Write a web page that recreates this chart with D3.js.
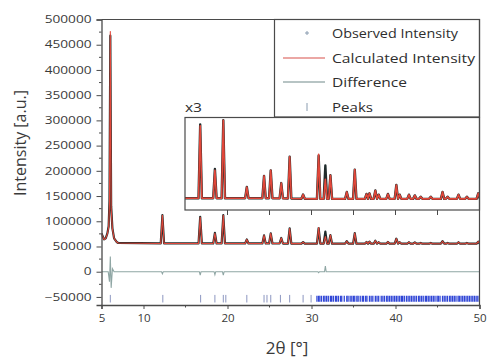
<!DOCTYPE html>
<html>
<head>
<meta charset="utf-8">
<script src="https://cdn.jsdelivr.net/npm/d3@7"></script>
<style>
  html, body { margin: 0; padding: 0; background: #fff; }
  svg { display: block; font-family: "Open Sans", "DejaVu Sans", sans-serif; }
</style>
</head>
<body>
<svg id="chart" width="490" height="358"></svg>
<script>
// ---------------- DATA ----------------
const xDomain = [5, 50];
const yTickValues = [-50000, 0, 50000, 100000, 150000, 200000, 250000, 300000, 350000, 400000, 450000, 500000];
const xTickLabels = [5, 10, 20, 30, 40, 50];
const xMinorTicks = [15, 25, 35, 45];
const insetTicks = [20, 25, 30, 35, 40, 45];

// background anchors
const bgX = [7, 8, 10, 15, 20, 25, 30, 35, 40, 45, 50];
const bgY = [57000, 56500, 56000, 56000, 56000, 56000, 55500, 55500, 55500, 55500, 55500];

// low-angle region, explicit profile
const lowX    = [5.0, 5.15, 5.3, 5.5, 5.7, 5.85, 5.95, 6.05, 6.15, 6.3, 6.5, 6.8, 7.0];
const lowObs  = [76000, 70000, 64000, 66000, 76000, 90000, 140000, 468000, 130000, 86000, 66000, 59000, 57000];
const lowCalc = [76000, 70000, 64000, 66000, 75000, 88000, 135000, 476000, 125000, 85000, 66000, 59000, 57000];

// reflections: position, calculated net height, observed net height
const peakPos  = [12.25, 16.75, 18.5, 19.5, 22.3, 24.35, 25.15, 26.4, 27.4, 29.0, 30.85, 31.65, 32.25, 34.2, 35.15, 36.55, 36.9, 37.6, 38.0, 39.1, 40.1, 40.5, 41.6, 42.3, 43.0, 44.2, 45.6, 46.2, 47.5, 48.5, 49.85];
const peakCalc = [56000, 52000, 20000, 56000, 8000, 16000, 20000, 11000, 30000, 3000, 32000, 14000, 17000, 5000, 21000, 3500, 4000, 6000, 3000, 3500, 10000, 3000, 3000, 2500, 1500, 1500, 5000, 1500, 3000, 1500, 4000];
const peakObs  = [56000, 53000, 21000, 56000, 8000, 16000, 20000, 11000, 30000, 3000, 31000, 24000, 17000, 5000, 21000, 3500, 4000, 6000, 3000, 3500, 10000, 3000, 3000, 2500, 1500, 1500, 5000, 1500, 3000, 1500, 4000];

// difference curve (explicit)
const diffX = [5, 5.8, 5.95, 6.05, 6.15, 6.3, 6.5, 12.15, 12.25, 12.35, 16.65, 16.75, 16.85, 18.4, 18.5, 18.6, 19.4, 19.5, 19.6, 30.75, 30.85, 30.95, 31.55, 31.65, 31.75, 50];
const diffY = [0, 0, -20000, 30000, -32000, 6000, 0, 0, -4000, 0, 0, -7000, 0, 0, -6000, 0, 0, -7000, 0, 0, -2000, 0, 0, 11000, 0, 0];

// reflection tick marks
const reflSparse = [6.05, 12.3, 16.8, 18.5, 19.5, 19.8, 22.3, 24.35, 24.7, 25.15, 26.3, 27.4, 29.0, 29.95];
const reflDense = [30.65, 30.85, 31.0, 31.2, 31.45, 31.6, 31.8, 32.0, 32.25, 32.4, 32.6, 32.85, 33.0, 33.2, 33.45, 33.6, 33.9, 34.2, 34.35, 34.6, 34.8, 35.0, 35.15, 35.4, 35.55, 35.8, 36.05, 36.2, 36.45, 36.6, 36.9, 37.1, 37.3, 37.6, 37.8, 38.0, 38.3, 38.5, 38.7, 38.95, 39.1, 39.3, 39.5, 39.7, 39.9, 40.1, 40.3, 40.5, 40.7, 40.85, 41.05, 41.3, 41.5, 41.7, 41.9, 42.1, 42.3, 42.5, 42.75, 42.9, 43.1, 43.3, 43.55, 43.7, 43.9, 44.1, 44.3, 44.5, 44.7, 44.95, 45.1, 45.3, 45.6, 45.8, 46.0, 46.2, 46.45, 46.6, 46.8, 47.0, 47.2, 47.45, 47.6, 47.8, 48.0, 48.2, 48.4, 48.6, 48.8, 49.0, 49.2, 49.4, 49.6, 49.8, 50.0];

const legendLabels = ["Observed Intensity", "Calculated Intensity", "Difference", "Peaks"];

// ---------------- LAYOUT ----------------
const svg = d3.select("#chart");
const L = 101.5, R = 479.5, T = 19.5, B = 305;
const x = d3.scaleLinear().domain(xDomain).range([L, R]);
const y = d3.scaleLinear().domain([-66000, 500000]).range([B, T]);
const bg = d3.scaleLinear().domain(bgX).range(bgY);

const frameColor = "#4a4a4a";
const textColor = "#3a3a3a";

// build profiles from the data
function profile(lowY, net) {
  const pts = lowX.map((v, i) => [v, lowY[i]]);
  const hw = 0.2;
  peakPos.forEach((p, i) => {
    pts.push([p - hw, bg(p - hw)]);
    pts.push([p, bg(p) + net[i]]);
    pts.push([p + hw, bg(p + hw)]);
  });
  pts.push([50, bg(50)]);
  return pts;
}
const obsPts = profile(lowObs, peakObs);
const calcPts = profile(lowCalc, peakCalc);
const diffPts = diffX.map((v, i) => [v, diffY[i]]);

const defs = svg.append("defs");
defs.append("clipPath").attr("id", "clipMain")
  .append("rect").attr("x", L).attr("y", T).attr("width", R - L).attr("height", B - T);
defs.append("clipPath").attr("id", "clipInset")
  .append("rect").attr("x", 185).attr("y", 117.5).attr("width", R - 185).attr("height", 92.5);

const lineMain = d3.line().x(d => x(d[0])).y(d => y(d[1]));

const gMain = svg.append("g").attr("clip-path", "url(#clipMain)");
gMain.append("path").datum(diffPts).attr("d", lineMain)
  .attr("fill", "none").attr("stroke", "#8fa6a4").attr("stroke-width", 1.1);
gMain.append("path").datum(obsPts).attr("d", lineMain)
  .attr("fill", "none").attr("stroke", "#1f2b2b").attr("stroke-width", 2.2).attr("stroke-linejoin", "round");
gMain.append("path").datum(calcPts).attr("d", lineMain)
  .attr("fill", "none").attr("stroke", "#e2473a").attr("stroke-width", 1.1).attr("stroke-linejoin", "round");

// reflection ticks
gMain.selectAll("line.rs").data(reflSparse).enter().append("line")
  .attr("x1", d => x(d)).attr("x2", d => x(d)).attr("y1", y(-46000)).attr("y2", y(-61000))
  .attr("stroke", "#8c96c0").attr("stroke-width", 1);
gMain.selectAll("line.rd").data(reflDense).enter().append("line")
  .attr("x1", d => x(d)).attr("x2", d => x(d)).attr("y1", y(-47500)).attr("y2", y(-59500))
  .attr("stroke", "#2f45d6").attr("stroke-width", 1.3);

// ---------------- LEGEND ----------------
const lg = svg.append("g");
lg.append("rect").attr("x", 274.5).attr("y", T).attr("width", R - 274.5).attr("height", 117 - T)
  .attr("fill", "#fff").attr("stroke", frameColor).attr("stroke-width", 1.2);
const legY = [33, 58, 82, 107];
const legW = [126, 143, 75, 41];
lg.selectAll("text").data(legendLabels).enter().append("text")
  .attr("x", 332).attr("y", (d, i) => legY[i] + 4.5)
  .attr("font-size", 12).attr("fill", "#2e2e2e")
  .attr("textLength", (d, i) => legW[i]).attr("lengthAdjust", "spacingAndGlyphs")
  .text(d => d);
lg.append("path").attr("d", `M${307 - 2},${legY[0]}h4M307,${legY[0] - 2}v4`)
  .attr("stroke", "#8a9cb0").attr("stroke-width", 1);
lg.append("line").attr("x1", 283).attr("x2", 325).attr("y1", legY[1]).attr("y2", legY[1])
  .attr("stroke", "#e48a86").attr("stroke-width", 1.3);
lg.append("line").attr("x1", 283).attr("x2", 325).attr("y1", legY[2]).attr("y2", legY[2])
  .attr("stroke", "#9fb0b0").attr("stroke-width", 1.3);
lg.append("line").attr("x1", 307).attr("x2", 307).attr("y1", legY[3] - 4).attr("y2", legY[3] + 4)
  .attr("stroke", "#8a9cb0").attr("stroke-width", 1);

// ---------------- INSET ----------------
const yIn = d3.scaleLinear().domain([47500, 114000]).range([210, 117.5]);
const lineIn = d3.line().x(d => x(d[0])).y(d => yIn(d[1]));
const gi = svg.append("g");
gi.append("rect").attr("x", 185).attr("y", 117.5).attr("width", R - 185).attr("height", 92.5)
  .attr("fill", "#fff");
const gic = gi.append("g").attr("clip-path", "url(#clipInset)");
gic.append("path").datum(obsPts).attr("d", lineIn)
  .attr("fill", "none").attr("stroke", "#1f2b2b").attr("stroke-width", 2.4).attr("stroke-linejoin", "round");
gic.append("path").datum(calcPts).attr("d", lineIn)
  .attr("fill", "none").attr("stroke", "#e2473a").attr("stroke-width", 1.6).attr("stroke-linejoin", "round");
gi.append("rect").attr("x", 185).attr("y", 117.5).attr("width", R - 185).attr("height", 92.5)
  .attr("fill", "none").attr("stroke", frameColor).attr("stroke-width", 1.2);
gi.selectAll("line.it").data(insetTicks).enter().append("line")
  .attr("x1", d => x(d)).attr("x2", d => x(d)).attr("y1", 210).attr("y2", 215)
  .attr("stroke", frameColor).attr("stroke-width", 1);
gi.append("text").attr("x", 185).attr("y", 112).attr("font-size", 12).attr("fill", "#2e2e2e")
  .attr("textLength", 17).attr("lengthAdjust", "spacingAndGlyphs").text("x3");

// ---------------- AXES / FRAME ----------------
svg.append("path").attr("d", `M${L},${T}H${R}V${B}`).attr("fill", "none")
  .attr("stroke", frameColor).attr("stroke-width", 1.2);

const yAxis = d3.axisLeft(y).tickValues(yTickValues).tickSize(5).tickPadding(5)
  .tickFormat(d3.format("d"));
const gy = svg.append("g").attr("transform", `translate(${L},0)`).call(yAxis);
gy.select(".domain").attr("stroke", frameColor).attr("stroke-width", 1.3);
gy.selectAll(".tick line").attr("stroke", frameColor);
gy.selectAll(".tick text").attr("font-size", 10).attr("fill", textColor)
  .attr("font-family", "'Open Sans', sans-serif")
  .attr("textLength", d => String(d).length * 7.8).attr("lengthAdjust", "spacingAndGlyphs");
const yMinor = yTickValues.slice(0, -1).map(v => v + 25000);
svg.selectAll("line.ym").data(yMinor).enter().append("line")
  .attr("x1", L - 2.5).attr("x2", L).attr("y1", d => y(d)).attr("y2", d => y(d))
  .attr("stroke", frameColor).attr("stroke-width", 1);

const xAxis = d3.axisBottom(x).tickValues(xTickLabels).tickSize(4).tickPadding(5)
  .tickFormat(d3.format("d"));
const gx = svg.append("g").attr("transform", `translate(0,${B})`).call(xAxis);
gx.select(".domain").attr("stroke", frameColor).attr("stroke-width", 1.3);
gx.selectAll(".tick line").attr("stroke", frameColor);
gx.selectAll(".tick text").attr("font-size", 11).attr("fill", textColor)
  .attr("font-family", "'Open Sans', sans-serif")
  .attr("textLength", d => String(d).length * 6.6).attr("lengthAdjust", "spacingAndGlyphs");
svg.selectAll("line.xm").data(xMinorTicks).enter().append("line")
  .attr("x1", d => x(d)).attr("x2", d => x(d)).attr("y1", B).attr("y2", B + 2.5)
  .attr("stroke", frameColor).attr("stroke-width", 1);

svg.append("text").attr("transform", "translate(26,143) rotate(-90)")
  .attr("text-anchor", "middle").attr("font-size", 16).attr("fill", textColor)
  .text("Intensity [a.u.]");
svg.append("text").attr("x", 287).attr("y", 354)
  .attr("text-anchor", "middle").attr("font-size", 17).attr("fill", textColor)
  .text("2θ [°]");
</script>
</body>
</html>
